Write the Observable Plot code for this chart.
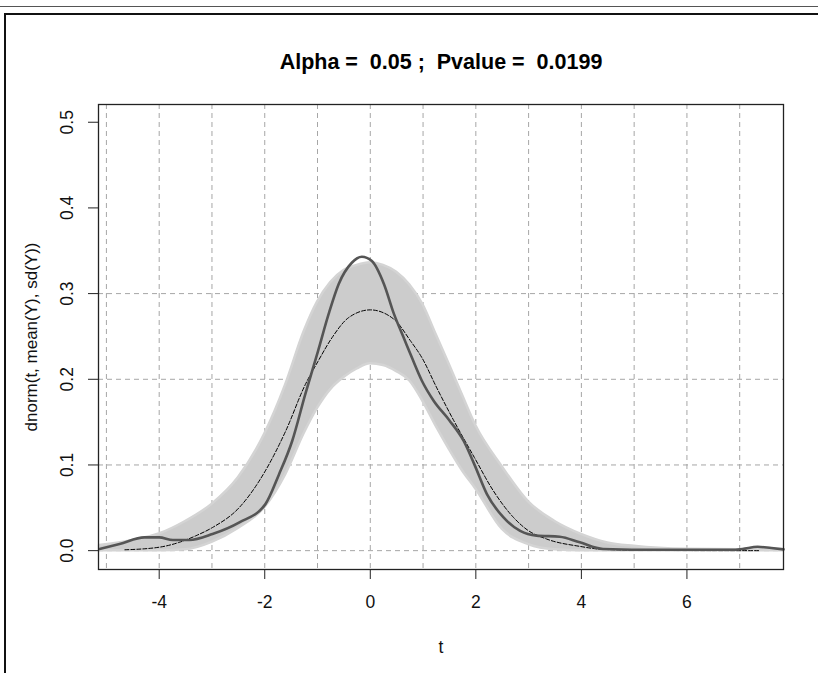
<!DOCTYPE html>
<html>
<head>
<meta charset="utf-8">
<script src="https://cdn.jsdelivr.net/npm/d3@7"></script>
<script src="https://cdn.jsdelivr.net/npm/@observablehq/plot@0.6"></script>
<style>
  html, body { margin: 0; padding: 0; background: #fff; }
  #wrap { position: relative; width: 818px; height: 673px; overflow: hidden; }
  #topline { position: absolute; left: 0; top: 6px; width: 818px; height: 1px; background: #555; }
  #frameTop { position: absolute; left: 4px; top: 13px; width: 814px; height: 2px; background: #111; }
  #frameLeft { position: absolute; left: 4px; top: 13px; width: 2px; height: 660px; background: #111; }
  #chart { position: absolute; left: 0; top: 0; }
</style>
</head>
<body>
<div id="wrap">
  <div id="chart"></div>
  <div id="topline"></div>
  <div id="frameTop"></div>
  <div id="frameLeft"></div>
</div>
<script>
// ---- data ----
const titleText = "Alpha =  0.05 ;  Pvalue =  0.0199";
const xLabel = "t";
const yLabel = "dnorm(t, mean(Y), sd(Y))";
const xTicks = [-4, -2, 0, 2, 4, 6];
const yTicks = [0, 0.1, 0.2, 0.3, 0.4, 0.5];
const xGrid = [-5, -4, -3, -2, -1, 0, 1, 2, 3, 4, 5, 6, 7];
const yGrid = [0, 0.1, 0.2, 0.3];

// envelope of the grey simulated density curves
const bandT     = [-5.13, -4.5, -4, -3.5, -3, -2.5, -2, -1.6, -1.25, -1, -0.75, -0.5, -0.25, 0, 0.25, 0.5, 0.75, 1, 1.25, 1.5, 1.75, 2, 2.5, 3, 3.5, 4, 4.5, 5, 6, 7, 7.83];
const bandUpper = [0.006, 0.012, 0.0194, 0.034, 0.054, 0.085, 0.136, 0.194, 0.256, 0.29, 0.313, 0.327, 0.333, 0.336, 0.333, 0.325, 0.31, 0.287, 0.252, 0.217, 0.181, 0.146, 0.098, 0.057, 0.034, 0.019, 0.009, 0.005, 0.0015, 0.001, 0.001];
const bandLower = [0, 0, 0, 0.001, 0.0097, 0.026, 0.05, 0.089, 0.137, 0.166, 0.188, 0.202, 0.212, 0.218, 0.216, 0.209, 0.198, 0.174, 0.145, 0.118, 0.093, 0.072, 0.025, 0.007, 0.001, 0, 0, 0, 0, 0, 0];

// observed density (dark solid line)
const obsT = [-5.13, -4.75, -4.28, -4.0, -3.74, -3.43, -2.99, -2.48, -1.99, -1.73, -1.48, -1.23, -0.99, -0.79, -0.6, -0.35, -0.16, 0.03, 0.26, 0.45, 0.63, 0.79, 0.98, 1.2, 1.5, 1.77, 1.97, 2.21, 2.52, 2.84, 3.15, 3.59, 3.97, 4.41, 5.5, 6.86, 7.05, 7.34, 7.6, 7.83];
const obsV = [0.002, 0.0078, 0.0155, 0.0155, 0.0124, 0.0124, 0.0194, 0.033, 0.054, 0.089, 0.128, 0.183, 0.233, 0.276, 0.311, 0.336, 0.343, 0.338, 0.311, 0.276, 0.249, 0.225, 0.198, 0.175, 0.152, 0.128, 0.101, 0.066, 0.039, 0.023, 0.0175, 0.0163, 0.0097, 0.002, 0.001, 0.001, 0.002, 0.0045, 0.003, 0.0015];

// normal density (black dashed line)
const normT = [-4.65, -4.0, -3.62, -3.3, -2.99, -2.48, -1.99, -1.6, -1.23, -0.99, -0.72, -0.41, 0, 0.45, 0.76, 0.98, 1.26, 1.58, 1.97, 2.33, 2.71, 2.98, 3.34, 3.97, 4.41, 5.5, 7.36];
const normV = [0.001, 0.004, 0.0097, 0.0175, 0.027, 0.0505, 0.093, 0.14, 0.194, 0.221, 0.249, 0.272, 0.281, 0.270, 0.245, 0.225, 0.19, 0.152, 0.109, 0.07, 0.039, 0.024, 0.0136, 0.005, 0.0015, 0.0002, 0];

// ---- tables built from the arrays ----
const band = bandT.map((t, i) => ({t, lo: bandLower[i], hi: bandUpper[i]}));
const obs = obsT.map((t, i) => ({t, v: obsV[i]}));
const norm = normT.map((t, i) => ({t, v: normV[i]}));

const font = "'Liberation Sans', Arial, sans-serif";

const chart = Plot.plot({
  width: 818,
  height: 673,
  marginLeft: 98,
  marginRight: 35,
  marginTop: 104,
  marginBottom: 104,
  style: {fontFamily: font, fontSize: "17px", color: "#000", background: "transparent"},
  x: {domain: [-5.15, 7.83], axis: null},
  y: {domain: [-0.022, 0.5207], axis: null},
  marks: [
    // grid
    Plot.ruleX(xGrid, {x: d => d, stroke: "#a6a6a6", strokeWidth: 1, strokeDasharray: "5,4"}),
    Plot.ruleY(yGrid, {y: d => d, stroke: "#a6a6a6", strokeWidth: 1, strokeDasharray: "5,4"}),
    // grey band of simulated curves
    Plot.areaY(band, {x: "t", y1: "lo", y2: "hi", fill: "#cccccc", stroke: "#d4d4d4", strokeWidth: 2.5, curve: "monotone-x"}),
    // normal density, dashed
    Plot.line(norm, {x: "t", y: "v", stroke: "#000", strokeWidth: 1, strokeDasharray: "4,2", curve: "monotone-x"}),
    // observed density
    Plot.line(obs, {x: "t", y: "v", stroke: "#555555", strokeWidth: 2.6, curve: "monotone-x"}),
    // frame
    Plot.frame({stroke: "#222", strokeWidth: 1.3}),
    // axes ticks
    Plot.axisX(xTicks, {tickSize: 10, tickFormat: () => "", stroke: "#222", label: null}),
    Plot.axisY(yTicks, {tickSize: 10, tickFormat: () => "", stroke: "#222", label: null}),
    // tick labels
    Plot.text(xTicks, {x: d => d, frameAnchor: "bottom", dy: 33, lineAnchor: "middle", textAnchor: "middle", text: d => String(d), fontSize: 17.5, fill: "#111"}),
    Plot.text(yTicks, {y: d => d, frameAnchor: "left", dx: -31, rotate: -90, lineAnchor: "middle", textAnchor: "middle", text: d => d.toFixed(1), fontSize: 17.5, fill: "#111"}),
    // axis titles
    Plot.text([xLabel], {frameAnchor: "bottom", dy: 78, lineAnchor: "middle", textAnchor: "middle", text: d => d, fontSize: 17.5, fill: "#111"}),
    Plot.text([yLabel], {frameAnchor: "left", dx: -67, rotate: -90, lineAnchor: "middle", textAnchor: "middle", text: d => d, fontSize: 17, fill: "#111"}),
    // title
    Plot.text([titleText], {frameAnchor: "top", dy: -42, lineAnchor: "middle", textAnchor: "middle", text: d => d, fontSize: 21.5, fontWeight: "bold", fill: "#000"})
  ]
});
document.getElementById("chart").appendChild(chart);
</script>
</body>
</html>
